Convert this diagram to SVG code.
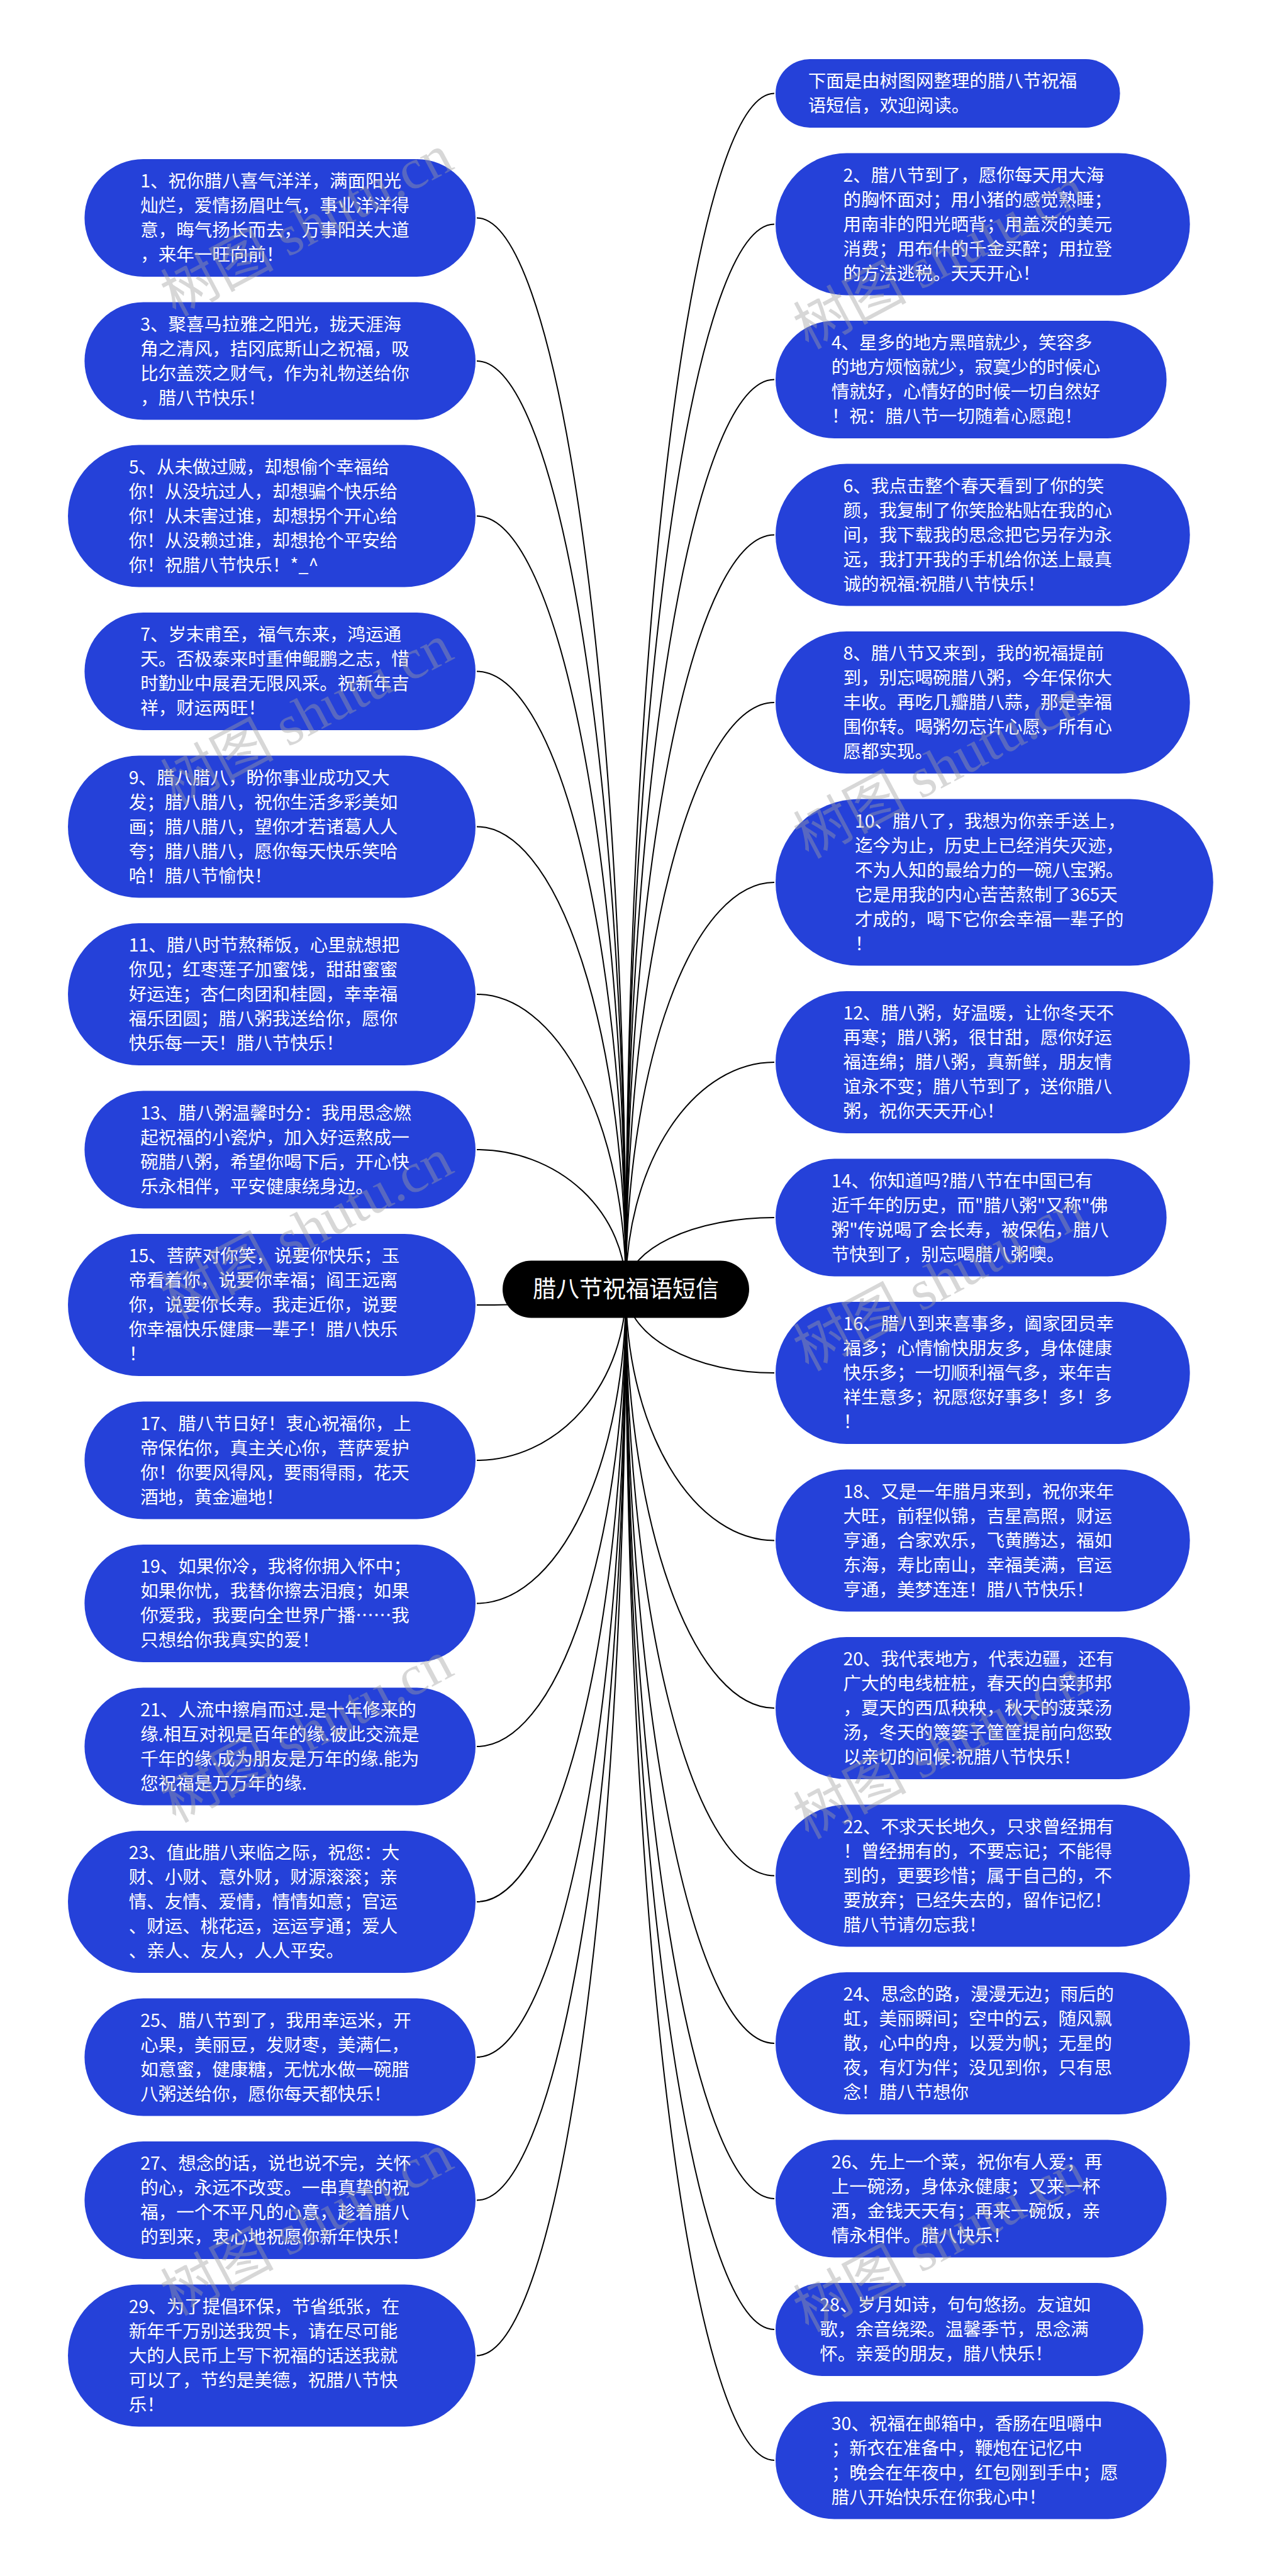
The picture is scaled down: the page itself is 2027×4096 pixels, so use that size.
<svg xmlns="http://www.w3.org/2000/svg" width="2027" height="4096" viewBox="0 0 2027 4096">
<style>
.nd{fill:#2541d9}
.t{font-family:"Noto Sans CJK SC","Liberation Sans",sans-serif;font-size:28.5px;fill:#ffffff}
.rt{font-family:"Noto Sans CJK SC","Liberation Sans",sans-serif;font-size:37px;fill:#ffffff}
.e{fill:none;stroke:#000000;stroke-width:2}
.wm{font-family:"Liberation Serif","Noto Sans CJK SC",serif;font-size:90px;fill:#a0a0a0;fill-opacity:0.42}
</style>
<rect x="0" y="0" width="2027" height="4096" fill="#ffffff"/>
<g id="connectors">
<path class="e" d="M995 2050A237 1703.5 0 0 0 758 346.5"/>
<path class="e" d="M995 2050A237 1476 0 0 0 758 574"/>
<path class="e" d="M995 2050A237 1229.5 0 0 0 758 820.5"/>
<path class="e" d="M995 2050A237 982.5 0 0 0 758 1067.5"/>
<path class="e" d="M995 2050A237 735.5 0 0 0 758 1314.5"/>
<path class="e" d="M995 2050A237 469 0 0 0 758 1581"/>
<path class="e" d="M995 2050A237 222 0 0 0 758 1828"/>
<path class="e" d="M995 2050A237 25 0 0 1 758 2075"/>
<path class="e" d="M995 2050A237 272 0 0 1 758 2322"/>
<path class="e" d="M995 2050A237 499.5 0 0 1 758 2549.5"/>
<path class="e" d="M995 2050A237 727 0 0 1 758 2777"/>
<path class="e" d="M995 2050A237 974 0 0 1 758 3024"/>
<path class="e" d="M995 2050A237 1221 0 0 1 758 3271"/>
<path class="e" d="M995 2050A237 1448.5 0 0 1 758 3498.5"/>
<path class="e" d="M995 2050A237 1695.5 0 0 1 758 3745.5"/>
<path class="e" d="M995 2050A236 1901.5 0 0 1 1231 148.5"/>
<path class="e" d="M995 2050A236 1693.5 0 0 1 1231 356.5"/>
<path class="e" d="M995 2050A236 1446.5 0 0 1 1231 603.5"/>
<path class="e" d="M995 2050A236 1199.5 0 0 1 1231 850.5"/>
<path class="e" d="M995 2050A236 933 0 0 1 1231 1117"/>
<path class="e" d="M995 2050A236 647 0 0 1 1231 1403"/>
<path class="e" d="M995 2050A236 361 0 0 1 1231 1689"/>
<path class="e" d="M995 2050A236 114 0 0 1 1231 1936"/>
<path class="e" d="M995 2050A236 133 0 0 0 1231 2183"/>
<path class="e" d="M995 2050A236 399.5 0 0 0 1231 2449.5"/>
<path class="e" d="M995 2050A236 666 0 0 0 1231 2716"/>
<path class="e" d="M995 2050A236 932.5 0 0 0 1231 2982.5"/>
<path class="e" d="M995 2050A236 1199 0 0 0 1231 3249"/>
<path class="e" d="M995 2050A236 1446 0 0 0 1231 3496"/>
<path class="e" d="M995 2050A236 1654 0 0 0 1231 3704"/>
<path class="e" d="M995 2050A236 1862 0 0 0 1231 3912"/>
</g>
<g id="root"><rect x="799" y="2004.5" width="392" height="91" rx="45.5" fill="#000000"/><text class="rt" x="995" y="2063" text-anchor="middle">腊八节祝福语短信</text></g>
<g id="n1"><rect class="nd" x="134.4" y="253" width="621.6" height="187" rx="93.5"/><text class="t" y="298"><tspan x="223.2">1、祝你腊八喜气洋洋，满面阳光</tspan><tspan x="223.2" dy="39">灿烂，爱情扬眉吐气，事业洋洋得</tspan><tspan x="223.2" dy="39">意，晦气扬长而去，万事阳关大道</tspan><tspan x="223.2" dy="39">，来年一旺向前！</tspan></text></g>
<g id="n3"><rect class="nd" x="134.4" y="480.5" width="621.6" height="187" rx="93.5"/><text class="t" y="525.5"><tspan x="223.2">3、聚喜马拉雅之阳光，拢天涯海</tspan><tspan x="223.2" dy="39">角之清风，拮冈底斯山之祝福，吸</tspan><tspan x="223.2" dy="39">比尔盖茨之财气，作为礼物送给你</tspan><tspan x="223.2" dy="39">，腊八节快乐！</tspan></text></g>
<g id="n5"><rect class="nd" x="108" y="707.5" width="648" height="226" rx="113"/><text class="t" y="752.5"><tspan x="204.7">5、从未做过贼，却想偷个幸福给</tspan><tspan x="204.7" dy="39">你！从没坑过人，却想骗个快乐给</tspan><tspan x="204.7" dy="39">你！从未害过谁，却想拐个开心给</tspan><tspan x="204.7" dy="39">你！从没赖过谁，却想抢个平安给</tspan><tspan x="204.7" dy="39">你！祝腊八节快乐！*_^</tspan></text></g>
<g id="n7"><rect class="nd" x="134.4" y="974" width="621.6" height="187" rx="93.5"/><text class="t" y="1019"><tspan x="223.2">7、岁末甫至，福气东来，鸿运通</tspan><tspan x="223.2" dy="39">天。否极泰来时重伸鲲鹏之志，惜</tspan><tspan x="223.2" dy="39">时勤业中展君无限风采。祝新年吉</tspan><tspan x="223.2" dy="39">祥，财运两旺！</tspan></text></g>
<g id="n9"><rect class="nd" x="108" y="1201.5" width="648" height="226" rx="113"/><text class="t" y="1246.5"><tspan x="204.7">9、腊八腊八，盼你事业成功又大</tspan><tspan x="204.7" dy="39">发；腊八腊八，祝你生活多彩美如</tspan><tspan x="204.7" dy="39">画；腊八腊八，望你才若诸葛人人</tspan><tspan x="204.7" dy="39">夸；腊八腊八，愿你每天快乐笑哈</tspan><tspan x="204.7" dy="39">哈！腊八节愉快！</tspan></text></g>
<g id="n11"><rect class="nd" x="108" y="1468" width="648" height="226" rx="113"/><text class="t" y="1513"><tspan x="204.7">11、腊八时节熬稀饭，心里就想把</tspan><tspan x="204.7" dy="39">你见；红枣莲子加蜜饯，甜甜蜜蜜</tspan><tspan x="204.7" dy="39">好运连；杏仁肉团和桂圆，幸幸福</tspan><tspan x="204.7" dy="39">福乐团圆；腊八粥我送给你，愿你</tspan><tspan x="204.7" dy="39">快乐每一天！腊八节快乐！</tspan></text></g>
<g id="n13"><rect class="nd" x="134.4" y="1734.5" width="621.6" height="187" rx="93.5"/><text class="t" y="1779.5"><tspan x="223.2">13、腊八粥温馨时分：我用思念燃</tspan><tspan x="223.2" dy="39">起祝福的小瓷炉，加入好运熬成一</tspan><tspan x="223.2" dy="39">碗腊八粥，希望你喝下后，开心快</tspan><tspan x="223.2" dy="39">乐永相伴，平安健康绕身边。</tspan></text></g>
<g id="n15"><rect class="nd" x="108" y="1962" width="648" height="226" rx="113"/><text class="t" y="2007"><tspan x="204.7">15、菩萨对你笑，说要你快乐；玉</tspan><tspan x="204.7" dy="39">帝看着你，说要你幸福；阎王远离</tspan><tspan x="204.7" dy="39">你，说要你长寿。我走近你，说要</tspan><tspan x="204.7" dy="39">你幸福快乐健康一辈子！腊八快乐</tspan><tspan x="204.7" dy="39">！</tspan></text></g>
<g id="n17"><rect class="nd" x="134.4" y="2228.5" width="621.6" height="187" rx="93.5"/><text class="t" y="2273.5"><tspan x="223.2">17、腊八节日好！衷心祝福你，上</tspan><tspan x="223.2" dy="39">帝保佑你，真主关心你，菩萨爱护</tspan><tspan x="223.2" dy="39">你！你要风得风，要雨得雨，花天</tspan><tspan x="223.2" dy="39">酒地，黄金遍地！</tspan></text></g>
<g id="n19"><rect class="nd" x="134.4" y="2456" width="621.6" height="187" rx="93.5"/><text class="t" y="2501"><tspan x="223.2">19、如果你冷，我将你拥入怀中；</tspan><tspan x="223.2" dy="39">如果你忧，我替你擦去泪痕；如果</tspan><tspan x="223.2" dy="39">你爱我，我要向全世界广播……我</tspan><tspan x="223.2" dy="39">只想给你我真实的爱！</tspan></text></g>
<g id="n21"><rect class="nd" x="134.4" y="2683.5" width="621.6" height="187" rx="93.5"/><text class="t" y="2728.5"><tspan x="223.2">21、人流中擦肩而过.是十年修来的</tspan><tspan x="223.2" dy="39">缘.相互对视是百年的缘.彼此交流是</tspan><tspan x="223.2" dy="39">千年的缘.成为朋友是万年的缘.能为</tspan><tspan x="223.2" dy="39">您祝福是万万年的缘.</tspan></text></g>
<g id="n23"><rect class="nd" x="108" y="2911" width="648" height="226" rx="113"/><text class="t" y="2956"><tspan x="204.7">23、值此腊八来临之际，祝您：大</tspan><tspan x="204.7" dy="39">财、小财、意外财，财源滚滚；亲</tspan><tspan x="204.7" dy="39">情、友情、爱情，情情如意；官运</tspan><tspan x="204.7" dy="39">、财运、桃花运，运运亨通；爱人</tspan><tspan x="204.7" dy="39">、亲人、友人，人人平安。</tspan></text></g>
<g id="n25"><rect class="nd" x="134.4" y="3177.5" width="621.6" height="187" rx="93.5"/><text class="t" y="3222.5"><tspan x="223.2">25、腊八节到了，我用幸运米，开</tspan><tspan x="223.2" dy="39">心果，美丽豆，发财枣，美满仁，</tspan><tspan x="223.2" dy="39">如意蜜，健康糖，无忧水做一碗腊</tspan><tspan x="223.2" dy="39">八粥送给你，愿你每天都快乐！</tspan></text></g>
<g id="n27"><rect class="nd" x="134.4" y="3405" width="621.6" height="187" rx="93.5"/><text class="t" y="3450"><tspan x="223.2">27、想念的话，说也说不完，关怀</tspan><tspan x="223.2" dy="39">的心，永远不改变。一串真挚的祝</tspan><tspan x="223.2" dy="39">福，一个不平凡的心意，趁着腊八</tspan><tspan x="223.2" dy="39">的到来，衷心地祝愿你新年快乐！</tspan></text></g>
<g id="n29"><rect class="nd" x="108" y="3632.5" width="648" height="226" rx="113"/><text class="t" y="3677.5"><tspan x="204.7">29、为了提倡环保，节省纸张，在</tspan><tspan x="204.7" dy="39">新年千万别送我贺卡，请在尽可能</tspan><tspan x="204.7" dy="39">大的人民币上写下祝福的话送我就</tspan><tspan x="204.7" dy="39">可以了，节约是美德，祝腊八节快</tspan><tspan x="204.7" dy="39">乐！</tspan></text></g>
<g id="n0"><rect class="nd" x="1233" y="94" width="547.6" height="109" rx="54.5"/><text class="t" y="139"><tspan x="1284.8">下面是由树图网整理的腊八节祝福</tspan><tspan x="1284.8" dy="39">语短信，欢迎阅读。</tspan></text></g>
<g id="n2"><rect class="nd" x="1233" y="243.5" width="658.7" height="226" rx="113"/><text class="t" y="288.5"><tspan x="1340.4">2、腊八节到了，愿你每天用大海</tspan><tspan x="1340.4" dy="39">的胸怀面对；用小猪的感觉熟睡；</tspan><tspan x="1340.4" dy="39">用南非的阳光晒背；用盖茨的美元</tspan><tspan x="1340.4" dy="39">消费；用布什的千金买醉；用拉登</tspan><tspan x="1340.4" dy="39">的方法逃税。天天开心！</tspan></text></g>
<g id="n4"><rect class="nd" x="1233" y="510" width="621.6" height="187" rx="93.5"/><text class="t" y="555"><tspan x="1321.8">4、星多的地方黑暗就少，笑容多</tspan><tspan x="1321.8" dy="39">的地方烦恼就少，寂寞少的时候心</tspan><tspan x="1321.8" dy="39">情就好，心情好的时候一切自然好</tspan><tspan x="1321.8" dy="39">！祝：腊八节一切随着心愿跑！</tspan></text></g>
<g id="n6"><rect class="nd" x="1233" y="737.5" width="658.7" height="226" rx="113"/><text class="t" y="782.5"><tspan x="1340.4">6、我点击整个春天看到了你的笑</tspan><tspan x="1340.4" dy="39">颜，我复制了你笑脸粘贴在我的心</tspan><tspan x="1340.4" dy="39">间，我下载我的思念把它另存为永</tspan><tspan x="1340.4" dy="39">远，我打开我的手机给你送上最真</tspan><tspan x="1340.4" dy="39">诚的祝福:祝腊八节快乐！</tspan></text></g>
<g id="n8"><rect class="nd" x="1233" y="1004" width="658.7" height="226" rx="113"/><text class="t" y="1049"><tspan x="1340.4">8、腊八节又来到，我的祝福提前</tspan><tspan x="1340.4" dy="39">到，别忘喝碗腊八粥，今年保你大</tspan><tspan x="1340.4" dy="39">丰收。再吃几瓣腊八蒜，那是幸福</tspan><tspan x="1340.4" dy="39">围你转。喝粥勿忘许心愿，所有心</tspan><tspan x="1340.4" dy="39">愿都实现。</tspan></text></g>
<g id="n10"><rect class="nd" x="1233" y="1270.5" width="695.8" height="265" rx="132.5"/><text class="t" y="1315.5"><tspan x="1358.9">10、腊八了，我想为你亲手送上，</tspan><tspan x="1358.9" dy="39">迄今为止，历史上已经消失灭迹，</tspan><tspan x="1358.9" dy="39">不为人知的最给力的一碗八宝粥。</tspan><tspan x="1358.9" dy="39">它是用我的内心苦苦熬制了365天</tspan><tspan x="1358.9" dy="39">才成的，喝下它你会幸福一辈子的</tspan><tspan x="1358.9" dy="39">！</tspan></text></g>
<g id="n12"><rect class="nd" x="1233" y="1576" width="658.7" height="226" rx="113"/><text class="t" y="1621"><tspan x="1340.4">12、腊八粥，好温暖，让你冬天不</tspan><tspan x="1340.4" dy="39">再寒；腊八粥，很甘甜，愿你好运</tspan><tspan x="1340.4" dy="39">福连绵；腊八粥，真新鲜，朋友情</tspan><tspan x="1340.4" dy="39">谊永不变；腊八节到了，送你腊八</tspan><tspan x="1340.4" dy="39">粥，祝你天天开心！</tspan></text></g>
<g id="n14"><rect class="nd" x="1233" y="1842.5" width="621.6" height="187" rx="93.5"/><text class="t" y="1887.5"><tspan x="1321.8">14、你知道吗?腊八节在中国已有</tspan><tspan x="1321.8" dy="39">近千年的历史，而"腊八粥"又称"佛</tspan><tspan x="1321.8" dy="39">粥"传说喝了会长寿，被保佑，腊八</tspan><tspan x="1321.8" dy="39">节快到了，别忘喝腊八粥噢。</tspan></text></g>
<g id="n16"><rect class="nd" x="1233" y="2070" width="658.7" height="226" rx="113"/><text class="t" y="2115"><tspan x="1340.4">16、腊八到来喜事多，阖家团员幸</tspan><tspan x="1340.4" dy="39">福多；心情愉快朋友多，身体健康</tspan><tspan x="1340.4" dy="39">快乐多；一切顺利福气多，来年吉</tspan><tspan x="1340.4" dy="39">祥生意多；祝愿您好事多！多！多</tspan><tspan x="1340.4" dy="39">！</tspan></text></g>
<g id="n18"><rect class="nd" x="1233" y="2336.5" width="658.7" height="226" rx="113"/><text class="t" y="2381.5"><tspan x="1340.4">18、又是一年腊月来到，祝你来年</tspan><tspan x="1340.4" dy="39">大旺，前程似锦，吉星高照，财运</tspan><tspan x="1340.4" dy="39">亨通，合家欢乐，飞黄腾达，福如</tspan><tspan x="1340.4" dy="39">东海，寿比南山，幸福美满，官运</tspan><tspan x="1340.4" dy="39">亨通，美梦连连！腊八节快乐！</tspan></text></g>
<g id="n20"><rect class="nd" x="1233" y="2603" width="658.7" height="226" rx="113"/><text class="t" y="2648"><tspan x="1340.4">20、我代表地方，代表边疆，还有</tspan><tspan x="1340.4" dy="39">广大的电线桩桩，春天的白菜邦邦</tspan><tspan x="1340.4" dy="39">，夏天的西瓜秧秧，秋天的菠菜汤</tspan><tspan x="1340.4" dy="39">汤，冬天的篾篓子筐筐提前向您致</tspan><tspan x="1340.4" dy="39">以亲切的问候:祝腊八节快乐！</tspan></text></g>
<g id="n22"><rect class="nd" x="1233" y="2869.5" width="658.7" height="226" rx="113"/><text class="t" y="2914.5"><tspan x="1340.4">22、不求天长地久，只求曾经拥有</tspan><tspan x="1340.4" dy="39">！曾经拥有的，不要忘记；不能得</tspan><tspan x="1340.4" dy="39">到的，更要珍惜；属于自己的，不</tspan><tspan x="1340.4" dy="39">要放弃；已经失去的，留作记忆！</tspan><tspan x="1340.4" dy="39">腊八节请勿忘我！</tspan></text></g>
<g id="n24"><rect class="nd" x="1233" y="3136" width="658.7" height="226" rx="113"/><text class="t" y="3181"><tspan x="1340.4">24、思念的路，漫漫无边；雨后的</tspan><tspan x="1340.4" dy="39">虹，美丽瞬间；空中的云，随风飘</tspan><tspan x="1340.4" dy="39">散，心中的舟，以爱为帆；无星的</tspan><tspan x="1340.4" dy="39">夜，有灯为伴；没见到你，只有思</tspan><tspan x="1340.4" dy="39">念！腊八节想你</tspan></text></g>
<g id="n26"><rect class="nd" x="1233" y="3402.5" width="621.6" height="187" rx="93.5"/><text class="t" y="3447.5"><tspan x="1321.8">26、先上一个菜，祝你有人爱；再</tspan><tspan x="1321.8" dy="39">上一碗汤，身体永健康；又来一杯</tspan><tspan x="1321.8" dy="39">酒，金钱天天有；再来一碗饭，亲</tspan><tspan x="1321.8" dy="39">情永相伴。腊八快乐！</tspan></text></g>
<g id="n28"><rect class="nd" x="1233" y="3630" width="584.6" height="148" rx="74"/><text class="t" y="3675"><tspan x="1303.3">28、岁月如诗，句句悠扬。友谊如</tspan><tspan x="1303.3" dy="39">歌，余音绕梁。温馨季节，思念满</tspan><tspan x="1303.3" dy="39">怀。亲爱的朋友，腊八快乐！</tspan></text></g>
<g id="n30"><rect class="nd" x="1233" y="3818.5" width="621.6" height="187" rx="93.5"/><text class="t" y="3863.5"><tspan x="1321.8">30、祝福在邮箱中，香肠在咀嚼中</tspan><tspan x="1321.8" dy="39">；新衣在准备中，鞭炮在记忆中</tspan><tspan x="1321.8" dy="39">；晚会在年夜中，红包刚到手中；愿</tspan><tspan x="1321.8" dy="39">腊八开始快乐在你我心中！</tspan></text></g>
<g id="watermark">
<text class="wm" transform="translate(279 504) rotate(-28)">树图 shutu.cn</text>
<text class="wm" transform="translate(279 1283) rotate(-28)">树图 shutu.cn</text>
<text class="wm" transform="translate(279 2100) rotate(-28)">树图 shutu.cn</text>
<text class="wm" transform="translate(279 2899) rotate(-28)">树图 shutu.cn</text>
<text class="wm" transform="translate(279 3683) rotate(-28)">树图 shutu.cn</text>
<text class="wm" transform="translate(1285 556) rotate(-28)">树图 shutu.cn</text>
<text class="wm" transform="translate(1285 1366) rotate(-28)">树图 shutu.cn</text>
<text class="wm" transform="translate(1285 2181) rotate(-28)">树图 shutu.cn</text>
<text class="wm" transform="translate(1285 2925) rotate(-28)">树图 shutu.cn</text>
<text class="wm" transform="translate(1285 3709) rotate(-28)">树图 shutu.cn</text>
</g>
</svg>
